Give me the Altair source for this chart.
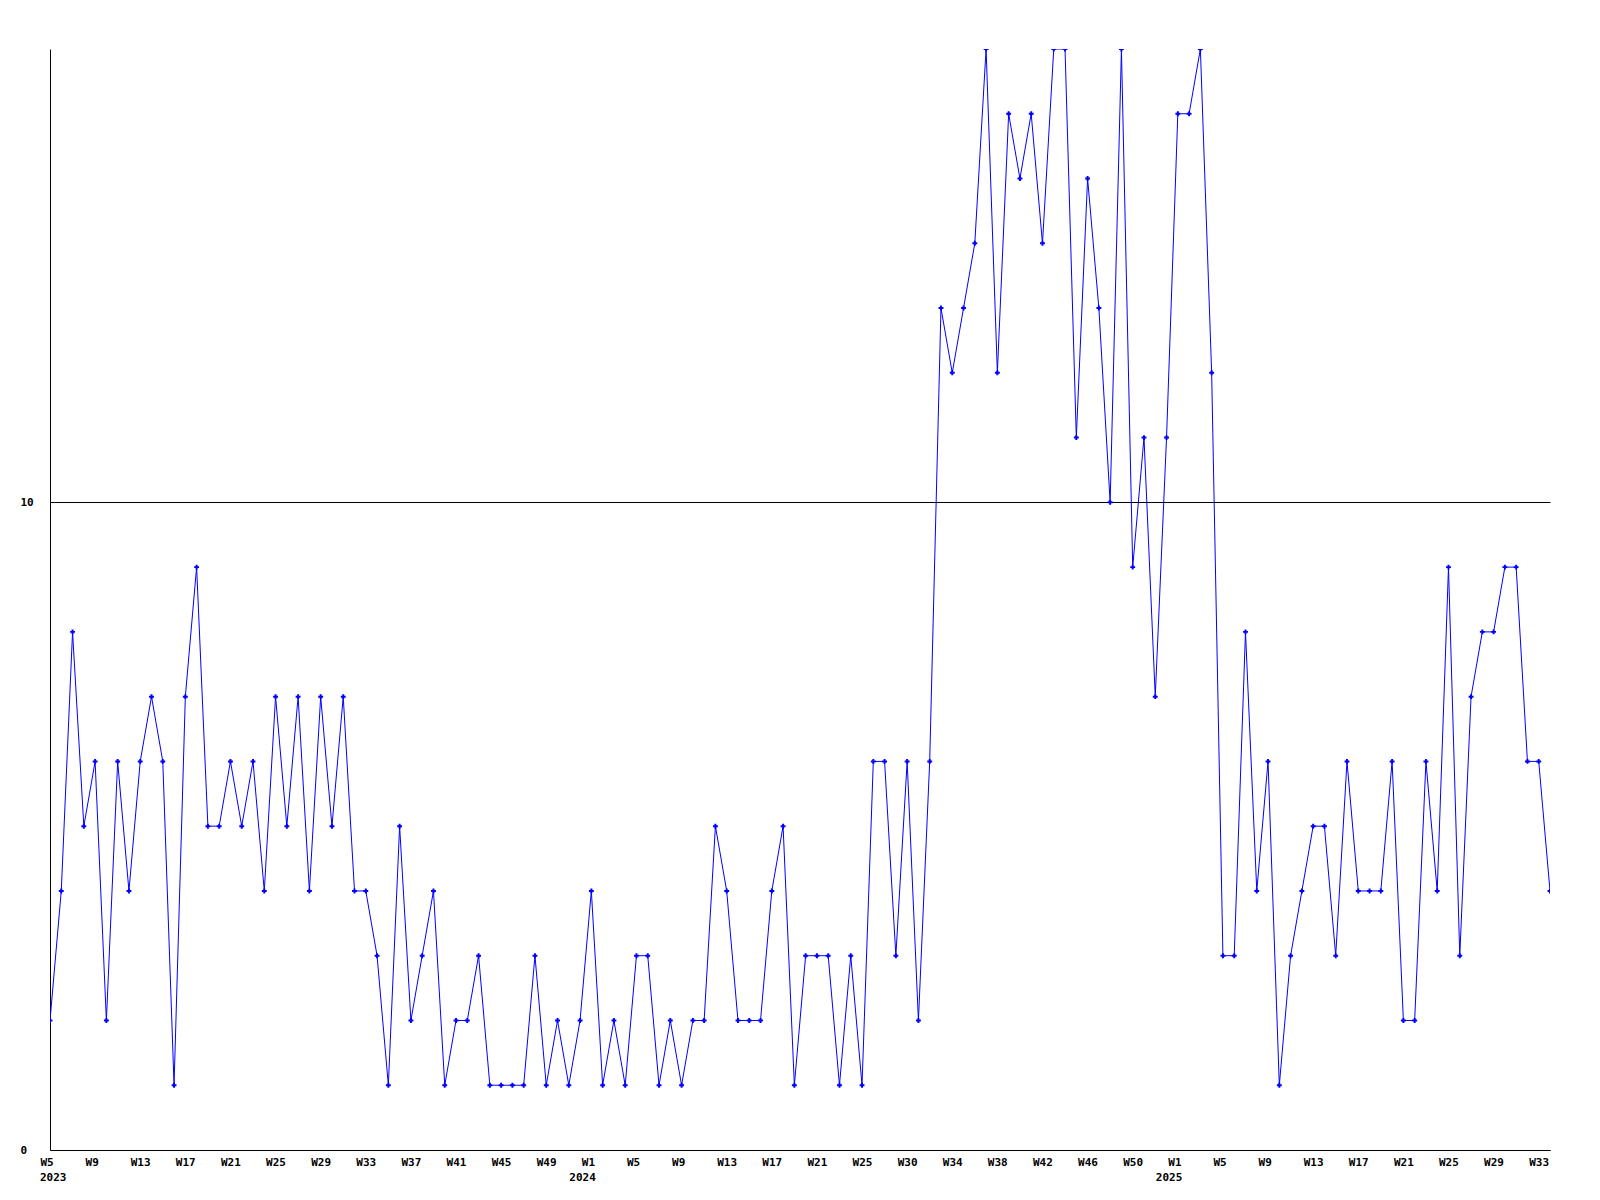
import json
import altair as alt
import pandas as pd

# weekly values, 2023 W5 .. 2025 W34
values = [2, 4, 8, 5, 6, 2, 6, 4, 6, 7, 6, 1, 7, 9, 5, 5, 6,
          5, 6, 4, 7, 5, 7, 4, 7, 5, 7, 4, 4, 3, 1, 5, 2, 3,
          4, 1, 2, 2, 3, 1, 1, 1, 1, 3, 1, 2, 1, 2, 4, 1, 2,
          1, 3, 3, 1, 2, 1, 2, 2, 5, 4, 2, 2, 2, 4, 5, 1, 3,
          3, 3, 1, 3, 1, 6, 6, 3, 6, 2, 6,
          13, 12, 13, 14, 17, 12, 16, 15, 16, 14, 17, 17, 11, 15, 13, 10, 17, 9, 11, 7, 11, 16, 16, 17, 12,
          3, 3, 8, 4, 6, 1, 3, 4, 5, 5, 3, 6, 4, 4, 4, 6,
          2, 2, 6, 4, 9, 3, 7, 8, 8, 9, 9, 6, 6, 4]

tick_weeks = ["W5", "W9", "W13", "W17", "W21", "W25", "W29", "W33", "W37", "W41", "W45", "W49",
              "W1", "W5", "W9", "W13", "W17", "W21", "W25", "W30", "W34", "W38", "W42", "W46", "W50",
              "W1", "W5", "W9", "W13", "W17", "W21", "W25", "W29", "W33"]
year_labels = ["2023", "2024", "2025"]
year_tick_number = [0, 12, 25]
y_ticks = [0, 10]

TICK_STEP = 4
df = pd.DataFrame({"i": list(range(len(values))), "v": values})
tick_vals = [k * TICK_STEP for k in range(len(tick_weeks))]
label_expr = json.dumps(tick_weeks) + "[round(datum.value/%d)]" % TICK_STEP
years_df = pd.DataFrame({"i": [k * TICK_STEP for k in year_tick_number], "year": year_labels})

FONT = "DejaVu Sans Mono"
BLUE = "#0000ff"
H = 1101

xscale = alt.Scale(domain=[0, len(values) - 1], nice=False, zero=False)
x = alt.X("i:Q", scale=xscale,
          axis=alt.Axis(values=tick_vals, labelExpr=label_expr, title=None, ticks=False,
                        grid=False, labelAlign="left", labelOffset=-10, labelBaseline="top",
                        labelPadding=6, labelOverlap=False,
                        labelBound=False, labelFlush=False))
y = alt.Y("v:Q",
          scale=alt.Scale(domain=[0, 17], nice=False, zero=True),
          axis=alt.Axis(values=y_ticks, title=None, ticks=False, grid=True,
                        gridColor="black", gridOpacity=1, gridWidth=1,
                        labelAlign="left", labelPadding=30, labelBaseline="middle"))

line = alt.Chart(df).mark_line(color=BLUE, strokeWidth=1, clip=True).encode(x=x, y=y)
pts = alt.Chart(df).mark_point(shape="cross", filled=True, size=24, color=BLUE, opacity=1,
                               clip=True).encode(x=x, y=y)

year_style = dict(font=FONT, fontWeight="bold", fontSize=11, color="black",
                  align="left", baseline="top")
first_year = alt.Chart(years_df.iloc[:1]).mark_text(dx=-10, **year_style).encode(
    x=alt.X("i:Q", scale=xscale), y=alt.value(H + 22), text="year:N")
other_years = alt.Chart(years_df.iloc[1:]).mark_text(dx=-22, **year_style).encode(
    x=alt.X("i:Q", scale=xscale), y=alt.value(H + 22), text="year:N")

chart = (line + pts + first_year + other_years).properties(
    width=1500, height=H,
    autosize=alt.AutoSizeParams(type="none"),
    padding={"left": 42, "top": 41, "right": 10, "bottom": 60},
    background="white",
).configure_view(stroke=None).configure_axis(
    domainColor="black", domainWidth=1, labelFont=FONT, labelFontWeight="bold",
    labelFontSize=11, labelColor="black",
)

chart.save("out.html", embed_options={"renderer": "svg", "actions": False})
